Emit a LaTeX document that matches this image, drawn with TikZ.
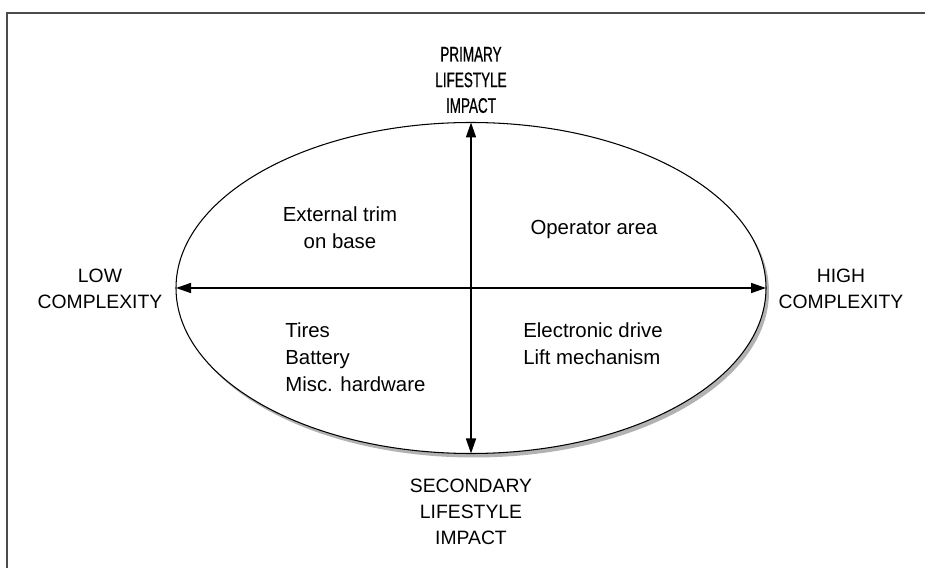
\documentclass[tikz,border=0pt]{standalone}
\usepackage{fontspec}
\setmainfont{Liberation Sans}
\newfontfamily\narrowfont[FakeStretch=0.64, FakeBold=0.6]{Liberation Sans}
\usetikzlibrary{arrows.meta, shapes.geometric, shadows}

\tikzset{
  label/.style={align=center, inner sep=0pt, font=\fontsize{11}{14.8}\selectfont},
  item/.style={align=left, inner sep=0pt, anchor=north west, font=\fontsize{11.6}{15.4}\selectfont},
  axis/.style={line width=0.85pt, {Triangle[length=3mm,width=2mm]}-{Triangle[length=3mm,width=2mm]}},
}

\begin{document}
\begin{tikzpicture}
\useasboundingbox (0,0) rectangle (18.5,11.34);
%frame
\draw[black!70, line width=1.4pt] (0.14,-0.2) -- (0.14,11.08) -- (18.7,11.08);
%ellipse
\node[ellipse, draw, line width=0.6pt, fill=white, inner sep=0pt, outer sep=0pt,
  minimum width=11.8cm, minimum height=6.62cm,
  drop shadow={shadow xshift=0.06cm, shadow yshift=-0.08cm, fill=black!30, opacity=1}]
  (oval) at (9.42,5.58) {};
%axes
\draw[axis] (oval.west) -- (oval.east);
\draw[axis] (oval.north) -- (oval.south);
%axis labels
\node[label, font=\narrowfont\fontsize{12}{14.6}\selectfont] (primary) at (9.42,9.74) {PRIMARY\\LIFESTYLE\\IMPACT};
\node[label] (secondary) at (9.42,1.11) {SECONDARY\\LIFESTYLE\\IMPACT};
\node[label] (low) at (2.0,5.56) {LOW\\COMPLEXITY};
\node[label] (high) at (16.82,5.56) {HIGH\\COMPLEXITY};
%quadrants
\node[label, font=\fontsize{11.6}{15.4}\selectfont] (trim) at (6.8,6.78) {External trim\\on base};
\node[label, anchor=base, font=\fontsize{11.6}{15.4}\selectfont] (operator) at (11.88,6.64) {Operator area};
\node[item] (parts) at (5.7,4.9) {Tires\\Battery\\Misc. hardware};
\node[item] (drive) at (10.46,4.9) {Electronic drive\\Lift mechanism};
\end{tikzpicture}
\end{document}
